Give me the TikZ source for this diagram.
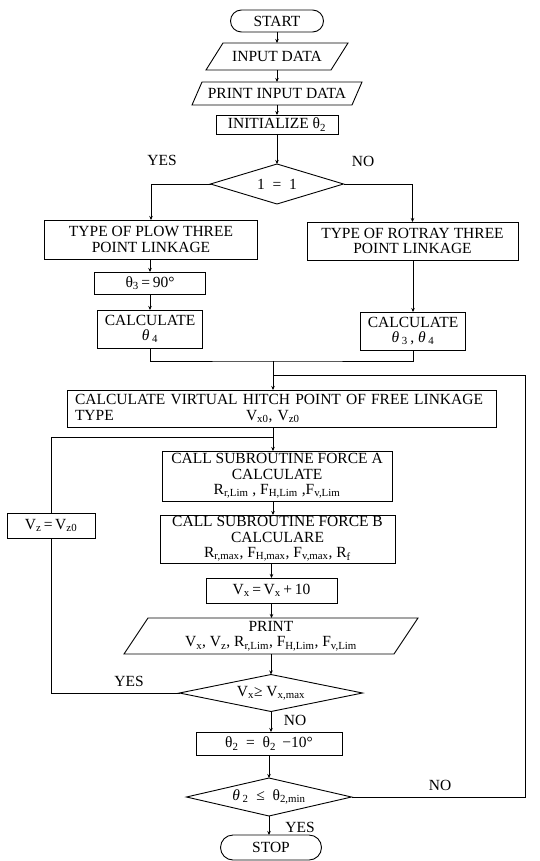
\documentclass[tikz,border=0pt]{standalone}
\usepackage{fontspec}
\setmainfont{Liberation Serif}
\usetikzlibrary{shapes.geometric,arrows.meta}
\newcommand\parallelo[2]{\draw[conn] ([xshift=#2pt]#1.north west) -- ([xshift=#2pt]#1.north east) -- ([xshift=-#2pt]#1.south east) -- ([xshift=-#2pt]#1.south west) -- cycle;}
\begin{document}
\begin{tikzpicture}[x=1pt,y=-1pt,
  nbase/.style={inner sep=0pt, outer sep=0pt, font=\fontsize{15.5}{15.5}\selectfont, align=center},
  box/.style={nbase, draw, line width=0.9pt, rectangle},
  term/.style={box, rounded corners=11pt},
  dec/.style={nbase, draw, line width=0.9pt, diamond, aspect=4},
  lbl/.style={nbase},
  conn/.style={line width=0.9pt},
  flow/.style={conn, -{Stealth[length=4pt,width=3.5pt]}},
]
\fill[white] (0,0) rectangle (540,861);
\useasboundingbox (0,0) rectangle (540,861);

% top column
\node[term, minimum width=93pt, minimum height=22pt] (start) at (277,21) {START};
\node[nbase, minimum width=125pt, minimum height=27pt] (in1) at (277,56.5) {INPUT DATA};
\parallelo{in1}{8.5}
\node[nbase, minimum width=160pt, minimum height=23pt] (in2) at (277,93.5) {PRINT INPUT DATA};
\parallelo{in2}{5}
\node[box, minimum width=122pt, minimum height=19pt] (init) at (277,124.5) {INITIALIZE θ\textsubscript{2}};
\node[dec, minimum width=133pt, minimum height=40pt] (d1) at (277,184) {1\enspace=\enspace1};
\node[lbl] (yes1) at (162,160) {YES};
\node[lbl] (no1) at (363,161) {NO};

% branches
\node[box, minimum width=213pt, minimum height=39pt] (plow) at (151,239.5) {TYPE OF PLOW THREE\\POINT LINKAGE};
\node[box, minimum width=211pt, minimum height=38pt] (rot) at (412.5,241) {TYPE OF ROTRAY THREE\\POINT LINKAGE};
\node[box, minimum width=111pt, minimum height=22pt] (th3) at (150,283) {θ\textsubscript{3}\,=\,90°};
\node[box, minimum width=105pt, minimum height=38pt] (cl) at (150,329) {CALCULATE\\\textit{θ}\,\textsubscript{4}};
\node[box, minimum width=105pt, minimum height=38pt] (cr) at (413,331) {CALCULATE\\\textit{θ}\,\textsubscript{3}\,,\ \textit{θ}\,\textsubscript{4}};

% main loop
\node[box, minimum width=429pt, minimum height=37pt, text width=413pt, align=left] (virt) at (281.5,408.5)
  {CALCULATE VIRTUAL HITCH POINT OF FREE LINKAGE\\\makebox[171pt][l]{TYPE}V\textsubscript{x0}, V\textsubscript{z0}};
\node[box, minimum width=230pt, minimum height=50pt] (fa) at (277,476)
  {CALL SUBROUTINE FORCE A\\CALCULATE\\R\textsubscript{r,Lim} , F\textsubscript{H,Lim} ,F\textsubscript{v,Lim}};
\node[box, minimum width=235pt, minimum height=48pt] (fb) at (277.5,539)
  {CALL SUBROUTINE FORCE B\\CALCULARE\\R\textsubscript{r,max}, F\textsubscript{H,max}, F\textsubscript{v,max}, R\textsubscript{f}};
\node[box, minimum width=131pt, minimum height=25pt] (vx) at (271.5,590.5) {V\textsubscript{x}\,=\,V\textsubscript{x}\,+\,10};
\node[nbase, minimum width=270pt, minimum height=36pt] (pr) at (271,636)
  {PRINT\\V\textsubscript{x}, V\textsubscript{z}, R\textsubscript{r,Lim}, F\textsubscript{H,Lim}, F\textsubscript{v,Lim}};
\parallelo{pr}{12}
\node[dec, minimum width=183pt, minimum height=37pt] (d3) at (271,693) {V\textsubscript{x}≥ V\textsubscript{x,max}};
\node[box, minimum width=88pt, minimum height=25pt] (vz) at (51,525.5) {V\textsubscript{z}\,=\,V\textsubscript{z0}};
\node[lbl] (yes3) at (129,681) {YES};
\node[lbl] (no3) at (295,720) {NO};

% outer loop
\node[box, minimum width=146pt, minimum height=23pt] (t2) at (269,743.5) {θ\textsubscript{2}\ \ =\ \ θ\textsubscript{2}\ \,−10°};
\node[dec, minimum width=165pt, minimum height=38pt] (d4) at (269,797) {\textit{θ}\,\textsubscript{2}\ \ ≤\ \ θ\textsubscript{2,min}};
\node[lbl] (no4) at (440,785) {NO};
\node[lbl] (yes4) at (300,827) {YES};
\node[term, minimum width=101pt, minimum height=25pt, rounded corners=12.5pt] (stop) at (271,847.5) {STOP};

% connectors
\draw[flow] (start.south) -- (in1.north);
\draw[flow] (in1.south) -- (in2.north);
\draw[flow] (in2.south) -- (init.north);
\draw[flow] (init.south) -- (d1.north);
\draw[flow] (d1.west) -| (plow.north);
\draw[flow] (d1.east) -| (rot.north);
\draw[flow] (plow.south -| th3.north) -- (th3.north);
\draw[flow] (th3.south) -- (cl.north);
\draw[flow] (rot.south -| cr.north) -- (cr.north);
\coordinate (J) at (273,361);
\draw[conn] (cl.south) |- (J) -| (cr.south);
\draw[flow] (J) -- (J |- virt.north);
\coordinate (R1) at (525,375);
\coordinate (R2) at (525,797);
\draw[conn] (d4.east) -- (R2) -- (R1) -- (J |- R1);
\coordinate (K) at (273,437);
\draw[flow] (K |- virt.south) -- (K |- fa.north);
\draw[flow] (K |- fa.south) -- (K |- fb.north);
\draw[flow] (vx.north |- fb.south) -- (vx.north);
\draw[flow] (vx.south) -- (vx.south |- pr.north);
\draw[flow] (d3.north |- pr.south) -- (d3.north);
\draw[conn] (d3.west) -| (vz.south);
\draw[conn] (vz.north) |- (K);
\draw[flow] (d3.south) -- (d3.south |- t2.north);
\draw[flow] (t2.south -| d4.north) -- (d4.north);
\draw[flow] (d4.south) -- (d4.south |- stop.north);
\end{tikzpicture}
\end{document}
